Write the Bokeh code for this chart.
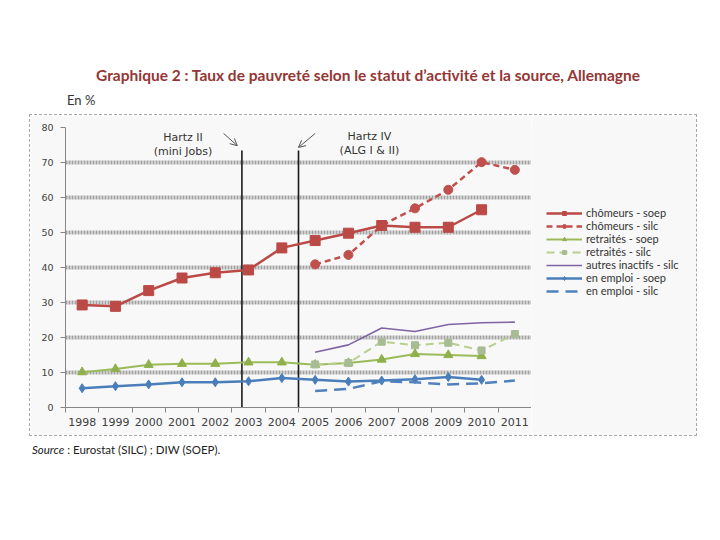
from bokeh.core.properties import value
from bokeh.embed import file_html
from bokeh.layouts import column, row
from bokeh.models import Arrow, Div, FixedTicker, Legend, LegendItem, OpenHead, Range1d
from bokeh.plotting import figure
from bokeh.resources import INLINE

# data (% poverty rate)
years_soep = list(range(1998, 2011))
years_silc = list(range(2005, 2012))

chomeurs_soep = [29.3, 28.9, 33.4, 37.0, 38.5, 39.3, 45.6, 47.7, 49.8, 52.0, 51.5, 51.5, 56.5]
chomeurs_silc = [40.9, 43.6, 52.0, 56.9, 62.2, 70.1, 67.9]
retraites_soep = [10.1, 11.0, 12.2, 12.5, 12.5, 12.9, 12.9, 12.2, 12.7, 13.7, 15.3, 15.0, 14.7]
retraites_silc = [12.3, 12.7, 18.8, 17.8, 18.5, 16.3, 21.0]
inactifs_silc = [15.8, 17.9, 22.7, 21.7, 23.7, 24.2, 24.4]
emploi_soep = [5.5, 6.1, 6.6, 7.2, 7.2, 7.5, 8.4, 7.9, 7.4, 7.7, 8.1, 8.7, 7.9]
emploi_silc = [4.7, 5.3, 7.5, 7.2, 6.6, 6.9, 7.7]

hartz_x = [2002.8, 2004.5]
hartz_top = 73.4
hartz_labels = ["Hartz II", "(mini Jobs)", "Hartz IV", "(ALG I & II)"]

year_ticks = list(range(1998, 2012))
y_ticks = list(range(0, 81, 10))

TITLE = "Graphique 2 : Taux de pauvreté selon le statut d’activité et la source, Allemagne"
UNIT = "En %"
SOURCE = ": Eurostat (SILC) ; DIW (SOEP)."

RED = "#bb4a46"
RED2 = "#c0504d"
GREEN = "#9bbb59"
GREEN_M = "#8fb04a"
LGREEN = "#b7cf8f"
LGREEN_M = "#a8bc94"
PURPLE = "#8064a2"
BLUE = "#4a7ebb"
BLUE2 = "#4f81bd"
TXT = "#404040"
BG = "#f8f8f8"

# label, x, y, line colour, width, dash, marker, marker size, marker colour
series = [
    ("en emploi - soep", years_soep, emploi_soep, BLUE, 2.5, "solid", "diamond", 9, BLUE),
    ("en emploi - silc", years_silc, emploi_silc, BLUE2, 2.5, "12 7", None, 0, None),
    ("retraités - soep", years_soep, retraites_soep, GREEN, 2, "solid", "triangle", 9, GREEN_M),
    ("retraités - silc", years_silc, retraites_silc, LGREEN, 2, "8 5", "square", 7, LGREEN_M),
    ("autres inactifs - silc", years_silc, inactifs_silc, PURPLE, 1.6, "solid", None, 0, None),
    ("chômeurs - silc", years_silc, chomeurs_silc, RED2, 2.5, "6 4", "circle", 9, RED2),
    ("chômeurs - soep", years_soep, chomeurs_soep, RED, 2.5, "solid", "square", 10, RED),
]
legend_order = ["chômeurs - soep", "chômeurs - silc", "retraités - soep", "retraités - silc",
                "autres inactifs - silc", "en emploi - soep", "en emploi - silc"]

# --- header: title and unit (plain html block, page coordinates)
head = Div(width=712, height=114, margin=0, text=(
    '<div style="position:relative;width:712px;height:114px;font-family:Lato;">'
    '<div style="position:absolute;left:0;top:68px;width:736px;text-align:center;line-height:1;'
    f'font-size:15.5px;font-weight:bold;color:#943634;white-space:nowrap;">{TITLE}</div>'
    '<div style="position:absolute;left:67px;top:94px;line-height:1;font-size:13px;color:#333;">'
    f'{UNIT}</div></div>'))

# --- chart
p = figure(width=501, height=320, x_range=Range1d(1997.5, 2011.5), y_range=Range1d(0, 80),
           output_backend="svg", toolbar_location=None,
           min_border_left=35, min_border_right=0, min_border_top=12, min_border_bottom=28,
           background_fill_color=BG, border_fill_color=BG, outline_line_color=None)

p.xaxis.ticker = FixedTicker(ticks=year_ticks, minor_ticks=[y - 0.5 for y in year_ticks] + [2011.5])
p.xaxis.major_tick_out = 0
p.xaxis.major_tick_in = 0
p.xaxis.minor_tick_out = 5
p.xaxis.minor_tick_in = 0
p.xaxis.minor_tick_line_color = "#868686"
p.xaxis.major_label_standoff = 5
p.xaxis.major_label_text_font = "DejaVu Sans"
p.xaxis.major_label_text_font_size = "11px"

p.yaxis.ticker = FixedTicker(ticks=y_ticks)
p.yaxis.major_tick_out = 5
p.yaxis.major_tick_in = 0
p.yaxis.major_label_standoff = 7
p.yaxis.major_label_text_font = "DejaVu Sans"
p.yaxis.major_label_text_font_size = "9.5px"

for ax in (p.xaxis, p.yaxis):
    ax.axis_line_color = "#868686"
    ax.major_tick_line_color = "#868686"
    ax.major_label_text_color = TXT

p.xgrid.visible = False
p.ygrid.ticker = FixedTicker(ticks=y_ticks[1:])
p.ygrid.grid_line_color = "#a3a3a3"
p.ygrid.grid_line_width = 4
p.ygrid.grid_line_dash = "2 1"

# Hartz reform markers
p.segment(x0=hartz_x, y0=[0, 0], x1=hartz_x, y1=[hartz_top, hartz_top],
          line_color="#1a1a1a", line_width=1.6)
p.text(x=[2001.03, 2001.03, 2006.63, 2006.63], y=[77.2, 73.1, 77.3, 73.3], text=hartz_labels,
       text_font=value("DejaVu Sans"), text_font_size="11px", text_color="#333333",
       text_align="center", text_baseline="middle")
p.add_layout(Arrow(end=OpenHead(size=7, line_color="#555555", line_width=1),
                   x_start=2002.25, y_start=78.3, x_end=2002.66, y_end=74.8,
                   line_color="#555555", line_width=1))
p.add_layout(Arrow(end=OpenHead(size=7, line_color="#555555", line_width=1),
                   x_start=2005.0, y_start=78.3, x_end=2004.5, y_end=74.3,
                   line_color="#555555", line_width=1))

# --- legend panel: same series, out of its view, only used for the legend keys
lf = figure(width=165, height=320, x_range=Range1d(0, 1), y_range=Range1d(-10, -9),
            output_backend="svg", toolbar_location=None,
            min_border_left=0, min_border_right=0, min_border_top=12, min_border_bottom=28,
            x_axis_location=None, y_axis_location=None,
            background_fill_color=BG, border_fill_color=BG, outline_line_color=None)
lf.grid.visible = False

keys = {}
for label, xs, ys, color, width, dash, marker, size, mcolor in series:
    p.line(xs, ys, line_color=color, line_width=width, line_dash=dash)
    rs = [lf.line(xs, ys, line_color=color, line_width=width, line_dash=dash)]
    if marker:
        p.scatter(xs, ys, marker=marker, size=size, color=mcolor)
        rs.append(lf.scatter(xs, ys, marker=marker, size=size - 2, color=mcolor))
    keys[label] = rs

legend = Legend(items=[LegendItem(label=lab, renderers=keys[lab]) for lab in legend_order],
                location=(15, 110), orientation="vertical")
legend.border_line_color = None
legend.background_fill_alpha = 0
legend.padding = 0
legend.margin = 0
legend.spacing = 0
legend.glyph_width = 36
legend.glyph_height = 10
legend.label_height = 10
legend.label_standoff = 4
legend.label_text_font = "Lato"
legend.label_text_font_size = "11px"
legend.label_text_color = "#333333"
lf.add_layout(legend)

box = row(p, lf, margin=(0, 0, 0, 29), styles={"border": "1px dashed #a8a8a8"})

# --- footer: source
foot = Div(width=712, height=50, margin=0, text=(
    '<div style="position:relative;width:712px;height:50px;font-family:Lato;">'
    '<div style="position:absolute;left:32px;top:8px;line-height:1;font-size:11.5px;color:#222;'
    f'white-space:nowrap;"><i>Source</i> {SOURCE}</div></div>'))

layout = column(head, box, foot)
open("out.html", "w").write(file_html(layout, INLINE))
